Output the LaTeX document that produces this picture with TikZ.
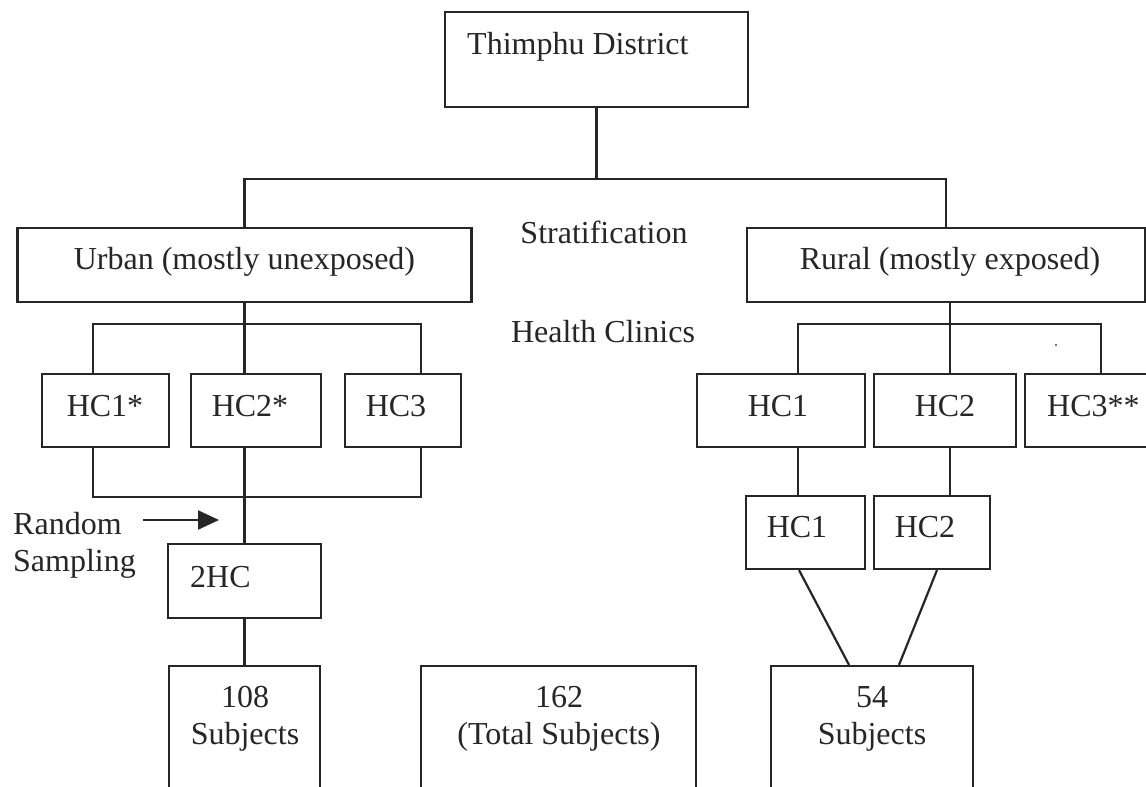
\documentclass[tikz,border=0pt]{standalone}
\usepackage{fontspec}
\setmainfont{Liberation Serif}
\usetikzlibrary{arrows.meta}
\tikzset{
  box/.style={draw=black!85, line width=2.2pt, inner sep=0pt, minimum height=74pt},
  txt/.style={inner sep=0pt, font=\fontsize{32}{37}\selectfont, text=black!85},
  conn/.style={draw=black!85, line width=2.2pt},
}
\begin{document}
\begin{tikzpicture}[x=1pt,y=-1pt]
\useasboundingbox (0,0) rectangle (1146,787);
\fill[white] (0,0) rectangle (1146,787);
\clip (0,0) rectangle (1146,787);

% boxes
\node[box, minimum width=303pt, minimum height=95pt] (td) at (596.5,59.5) {};
\node[box, minimum width=454pt] (urban) at (244.5,265) {};
\node[box, minimum width=398pt] (rural) at (946,265) {};
\node[box, minimum width=127pt, minimum height=73pt] (uhc1) at (105.5,410.5) {};
\node[box, minimum width=130pt, minimum height=73pt] (uhc2) at (256,410.5) {};
\node[box, minimum width=116pt, minimum height=73pt] (uhc3) at (403,410.5) {};
\node[box, minimum width=168pt, minimum height=73pt] (rhc1) at (781,410.5) {};
\node[box, minimum width=142pt, minimum height=73pt] (rhc2) at (945,410.5) {};
\node[box, minimum width=175pt, minimum height=73pt] (rhc3) at (1112.5,410.5) {};
\node[box, minimum width=153pt] (hc2x) at (244.5,581) {};
\node[box, minimum width=119pt, minimum height=73pt] (shc1) at (805.5,532.5) {};
\node[box, minimum width=116pt, minimum height=73pt] (shc2) at (932,532.5) {};
\node[box, minimum width=151pt, minimum height=154pt] (s108) at (244.5,743) {};
\node[box, minimum width=275pt, minimum height=154pt] (s162) at (558.5,743) {};
\node[box, minimum width=202pt, minimum height=154pt] (s54) at (872,743) {};

% texts
\node[txt, anchor=base west] (ttd) at (467,54) {Thimphu District};
\node[txt, anchor=base] (tstrat) at (604,243) {Stratification};
\node[txt, anchor=base] (thc) at (603,342) {Health Clinics};
\node[txt, anchor=base] (turban) at (244.5,269) {Urban (mostly unexposed)};
\node[txt, anchor=base] (trural) at (950,269) {Rural (mostly exposed)};
\node[txt, anchor=base] (tuhc1) at (105,416) {HC1*};
\node[txt, anchor=base] (tuhc2) at (250,416) {HC2*};
\node[txt, anchor=base] (tuhc3) at (396,416) {HC3};
\node[txt, anchor=base] (trhc1) at (778,416) {HC1};
\node[txt, anchor=base] (trhc2) at (945,416) {HC2};
\node[txt, anchor=base west] (trhc3) at (1047,416) {HC3**};
\node[txt, anchor=base] (tshc1) at (797,537) {HC1};
\node[txt, anchor=base] (tshc2) at (925,537) {HC2};
\node[txt, anchor=base west] (thc2x) at (190,587) {2HC};
\node[txt, anchor=base] (t108a) at (245,707) {108};
\node[txt, anchor=base] (t108b) at (245,744) {Subjects};
\node[txt, anchor=base] (t162a) at (559,707) {162};
\node[txt, anchor=base] (t162b) at (559,744) {(Total Subjects)};
\node[txt, anchor=base] (t54a) at (872,707) {54};
\node[txt, anchor=base] (t54b) at (872,744) {Subjects};
\node[txt, anchor=base west, align=left] (trs) at (13,571) {Random\\Sampling};

% connectors top
\coordinate (j1) at (596.5,179);
\draw[conn] (td.south) -- (j1);
\draw[conn] (urban.north) |- (j1) -| (rural.north);

% urban branch
\draw[conn] (urban.south) -- (urban.south |- uhc2.north);
\draw[conn] ([xshift=-12.5pt]uhc1.north) -- ++(0,-49) -| ([xshift=18pt]uhc3.north);
\draw[conn] ([xshift=-12.5pt]uhc1.south) -- ++(0,49) -| ([xshift=18pt]uhc3.south);
\draw[conn] (hc2x.north |- uhc2.south) -- (hc2x.north);
\draw[conn] (hc2x.south) -- (s108.north);

% random sampling arrow
\coordinate (a1) at (143,520);
\coordinate (a2) at (219,520);
\draw[conn, -{Triangle[length=21pt,width=19pt]}] (a1) -- (a2);

% rural branch
\draw[conn] ([xshift=4pt]rural.south) -- ([xshift=5pt]rhc2.north);
\draw[conn] ([xshift=17pt]rhc1.north) -- ++(0,-49) -| ([xshift=-11.5pt]rhc3.north);
\draw[conn] ([xshift=17pt]rhc1.south) -- ([xshift=-7.5pt]shc1.north);
\draw[conn] ([xshift=5pt]rhc2.south) -- ([xshift=18pt]shc2.north);
\draw[conn] ([xshift=-6.5pt]shc1.south) -- ([xshift=-23pt]s54.north);
\draw[conn] ([xshift=5pt]shc2.south) -- ([xshift=27pt]s54.north);

% speck
\fill[black!70] (1056,345) circle (1.2pt);
\end{tikzpicture}
\end{document}
